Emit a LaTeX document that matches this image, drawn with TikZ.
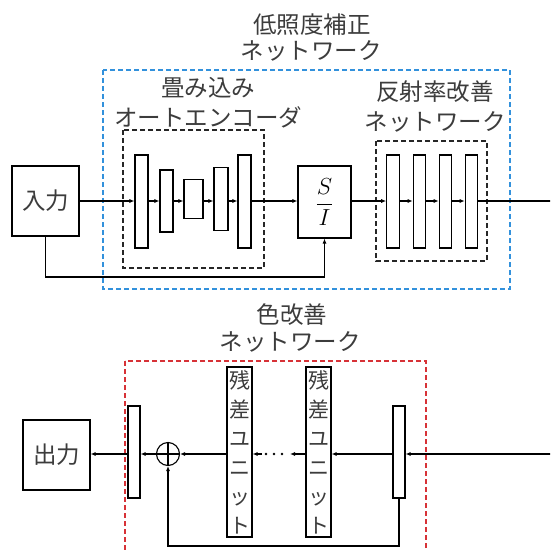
\documentclass[tikz,border=0pt]{standalone}
\usepackage{graphicx}
\usepackage{fontspec}
\newfontfamily\jp{Noto Sans CJK JP}
\usetikzlibrary{arrows.meta}
\definecolor{bluedash}{RGB}{50,145,220}
\definecolor{reddash}{RGB}{215,50,55}
\definecolor{txt}{RGB}{60,60,60}
\begin{document}
\begin{tikzpicture}[x=1pt,y=-1pt,
  blk/.style={draw,line width=1.1pt,inner sep=0pt},
  lbl/.style={text=txt,font=\jp\fontsize{23.5}{27}\selectfont,inner sep=0pt},
  arr/.style={line width=1.1pt,-{Latex[length=5pt,width=4pt]}},
  ln/.style={line width=1.1pt},
  bdash/.style={draw=bluedash,line width=1.2pt,dash pattern=on 5pt off 3pt},
  rdash/.style={draw=reddash,line width=1.2pt,dash pattern=on 5pt off 3pt},
  kdash/.style={draw=black!85,line width=1.1pt,dash pattern=on 5pt off 3pt},
  ru/.style={blk,minimum width=25pt,minimum height=170pt,align=center,text=txt,font=\jp\fontsize{21}{29}\selectfont}]
\clip (0,0) rectangle (550,551);
\useasboundingbox (0,0) rectangle (550,551);
% ---------- top ----------
\node[lbl] (t1) at (312,25) {低照度補正};
\node[lbl] (t2) at (311,51) {ネットワーク};
\draw[bdash] (103,70) rectangle (510,289);
\node[lbl] (ae1) at (208,88) {畳み込み};
\node[lbl] (ae2) at (208,117) {オートエンコーダ};
\draw[kdash] (123,130) rectangle (264,268);
\node[lbl] (rf1) at (435,92) {反射率改善};
\node[lbl] (rf2) at (435,122) {ネットワーク};
\draw[kdash] (376,141) rectangle (487,261);

\node[blk,minimum width=67pt,minimum height=70pt,lbl,text=txt] (inp) at (45.5,201) {入力};
\node[blk,minimum width=13pt,minimum height=93pt] (a1) at (141.5,201.5) {};
\node[blk,minimum width=13pt,minimum height=62pt] (a2) at (166.5,201) {};
\node[blk,minimum width=19pt,minimum height=39pt] (a3) at (193.5,199) {};
\node[blk,minimum width=14pt,minimum height=63pt] (a4) at (221,199) {};
\node[blk,minimum width=13pt,minimum height=93pt] (a5) at (244.5,201.5) {};
\node[blk,minimum width=53pt,minimum height=72pt] (si) at (324.5,202) {\scalebox{1.12}{\fontsize{22}{26}\selectfont$\displaystyle\frac{S}{I}$}};
\node[blk,minimum width=12.5pt,minimum height=93pt] (r1) at (393,201.5) {};
\node[blk,minimum width=12.5pt,minimum height=93pt] (r2) at (419.5,201.5) {};
\node[blk,minimum width=12.5pt,minimum height=93pt] (r3) at (445.5,201.5) {};
\node[blk,minimum width=12.5pt,minimum height=93pt] (r4) at (471.5,201.5) {};
\coordinate (outR) at (552,201);
\coordinate (byp) at (0,277);

\draw[arr] (inp.east) -- (inp.east -| a1.west);
\draw[arr] (inp.east -| a1.east) -- (inp.east -| a2.west);
\draw[arr] (inp.east -| a2.east) -- (inp.east -| a3.west);
\draw[arr] (inp.east -| a3.east) -- (inp.east -| a4.west);
\draw[arr] (inp.east -| a4.east) -- (inp.east -| a5.west);
\draw[arr] (inp.east -| a5.east) -- (inp.east -| si.west);
\draw[arr] (inp.east -| si.east) -- (inp.east -| r1.west);
\draw[arr] (inp.east -| r1.east) -- (inp.east -| r2.west);
\draw[arr] (inp.east -| r2.east) -- (inp.east -| r3.west);
\draw[arr] (inp.east -| r3.east) -- (inp.east -| r4.west);
\draw[ln] (inp.east -| r4.east) -- (outR);
\draw[arr] (inp.south) -- (inp.south |- byp) -- (si.south |- byp) -- (si.south);

% ---------- bottom ----------
\node[lbl] (c1) at (292,315) {色改善};
\node[lbl] (c2) at (290,342) {ネットワーク};
\draw[rdash] (125,361) rectangle (426,600);
\node[blk,minimum width=67pt,minimum height=70pt,lbl,text=txt] (out) at (56.5,455) {出力};
\node[blk,minimum width=12pt,minimum height=92pt] (bl) at (134,452) {};
\node[draw,line width=1.1pt,circle,minimum size=23pt,inner sep=0pt] (sum) at (168,454) {};
\draw[line width=1.1pt] (sum.north) -- (sum.south) (sum.west) -- (sum.east);
\node[ru] (ru1) at (239.5,452) {残\\差\\ユ\\ニ\\ッ\\ト};
\node[ru] (ru2) at (318.5,452) {残\\差\\ユ\\ニ\\ッ\\ト};
\node[blk,minimum width=12pt,minimum height=92pt] (br) at (399,452) {};
\coordinate (inR) at (552,454);
\coordinate (d1) at (290,454);
\coordinate (d2) at (262,454);
\coordinate (sk) at (0,546);

\draw[arr] (inR) -- (inR -| br.east);
\draw[arr] (inR -| br.west) -- (inR -| ru2.east);
\draw[arr] (inR -| ru2.west) -- (d1);
\draw[line width=2.6pt,line cap=round,dash pattern=on 0pt off 8pt] (282,454) -- (d2);
\draw[arr] (d2) -- (inR -| ru1.east);
\draw[arr] (inR -| ru1.west) -- (sum.east);
\draw[arr] (sum.west) -- (inR -| bl.east);
\draw[arr] (inR -| bl.west) -- (out.east |- inR);
\draw[arr] (br.south) -- (br.south |- sk) -- (sum.south |- sk) -- (sum.south);
\end{tikzpicture}
\end{document}
